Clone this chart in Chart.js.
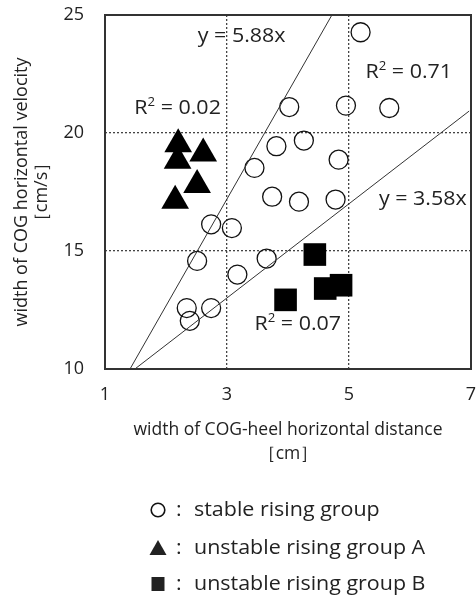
<!DOCTYPE html>
<html lang="en">
<head>
  <meta charset="UTF-8">
  <title>COG velocity vs COG-heel distance</title>
  <script src="https://cdn.jsdelivr.net/npm/chart.js"></script>
  <style>
    html, body { margin: 0; padding: 0; background: #fff; }
    #wrap { width: 476px; height: 603px; }
  </style>
</head>
<body>
  <div id="wrap"><canvas id="chart" width="476" height="603"></canvas></div>
  <script>
    // values
    const stableX = [5.19, 4.02, 4.95, 5.66, 3.81, 4.26, 4.83, 3.45, 3.74, 4.18, 4.78, 2.74, 3.08, 2.51, 3.65, 3.17, 2.34, 2.74, 2.39];
    const stableY = [24.27, 21.10, 21.16, 21.06, 19.44, 19.68, 18.87, 18.52, 17.30, 17.09, 17.18, 16.13, 15.97, 14.58, 14.68, 14.00, 12.58, 12.58, 12.04];
    const groupAX = [2.20, 2.19, 2.61, 2.51, 2.15];
    const groupAY = [19.52, 18.82, 19.13, 17.80, 17.13];
    const groupBX = [4.44, 3.96, 4.61, 4.87];
    const groupBY = [14.85, 12.93, 13.41, 13.55];
    const fitUpperX = [1.41, 4.72];
    const fitUpperY = [10, 25];
    const fitLowerX = [1.49, 6.97];
    const fitLowerY = [10, 20.93];
    const xTicks = [1, 3, 5, 7];
    const yTicks = [10, 15, 20, 25];
    const legendLabels = ['stable rising group', 'unstable rising group A', 'unstable rising group B'];

    const FONT = '"Open Sans"';
    const INK = '#222';
    const STRETCH = 1.1; // the original lettering is a bit wide

    const toPoints = (xs, ys) => xs.map((x, i) => ({ x: x, y: ys[i] }));

    // text notes inside the plot (data units)
    const notes = [
      { text: 'y = 5.88x', x: 3.24, y: 24.11 },
      { text: '= 0.71', sup: true, x: 5.98, y: 22.55 },
      { text: '= 0.02', sup: true, x: 2.19, y: 21.03 },
      { text: 'y = 3.58x', x: 6.21, y: 17.18 },
      { text: '= 0.07', sup: true, x: 4.16, y: 11.90 }
    ];

    const framePlugin = {
      id: 'frame',
      afterDraw(chart) {
        const { ctx, chartArea: a } = chart;
        ctx.save();
        ctx.strokeStyle = '#333';
        ctx.lineWidth = 2;
        ctx.strokeRect(a.left, a.top, a.right - a.left, a.bottom - a.top);
        ctx.restore();
      }
    };

    const notesPlugin = {
      id: 'notes',
      afterDatasetsDraw(chart) {
        const { ctx, scales } = chart;
        const big = '19.5px ' + FONT;
        const small = '12px ' + FONT;
        notes.forEach(n => {
          const px = scales.x.getPixelForValue(n.x);
          const py = scales.y.getPixelForValue(n.y);
          ctx.save();
          ctx.fillStyle = INK;
          ctx.textBaseline = 'middle';
          ctx.textAlign = 'left';
          ctx.translate(px, py);
          ctx.scale(STRETCH, 1);
          if (n.sup) {
            ctx.font = big;
            const wR = ctx.measureText('R').width;
            const wRest = ctx.measureText(' ' + n.text).width;
            ctx.font = small;
            const w2 = ctx.measureText('2').width;
            const x = -(wR + w2 + wRest) / 2;
            ctx.font = big;
            ctx.fillText('R', x, 0);
            ctx.font = small;
            ctx.fillText('2', x + wR, -6);
            ctx.font = big;
            ctx.fillText(' ' + n.text, x + wR + w2, 0);
          } else {
            ctx.font = big;
            const w = ctx.measureText(n.text).width;
            ctx.fillText(n.text, -w / 2, 0);
          }
          ctx.restore();
        });
      }
    };

    const legendPlugin = {
      id: 'symbolLegend',
      afterDraw(chart) {
        const { ctx } = chart;
        const rows = [510, 548, 584];
        const symX = 158;
        ctx.save();
        ctx.fillStyle = INK;
        ctx.strokeStyle = '#111';
        ctx.textBaseline = 'middle';
        rows.forEach((y, i) => {
          ctx.beginPath();
          if (i === 0) {
            ctx.lineWidth = 1.6;
            ctx.arc(symX, y, 6.8, 0, Math.PI * 2);
            ctx.stroke();
          } else if (i === 1) {
            ctx.moveTo(symX, y - 8);
            ctx.lineTo(symX + 8.5, y + 7);
            ctx.lineTo(symX - 8.5, y + 7);
            ctx.closePath();
            ctx.fill();
          } else {
            ctx.rect(symX - 6.5, y - 7, 13, 14);
            ctx.fill();
          }
          ctx.save();
          ctx.translate(176, y);
          ctx.scale(STRETCH, 1);
          ctx.font = '19.5px ' + FONT;
          ctx.fillText(':', 0, 0);
          ctx.fillText(legendLabels[i], 18 / STRETCH, 0);
          ctx.restore();
        });
        ctx.restore();
      }
    };

    const gridColor = ctx => {
      const s = ctx.scale;
      return (ctx.tick && (ctx.tick.value === s.min || ctx.tick.value === s.max)) ? 'rgba(0,0,0,0)' : '#444';
    };

    new Chart(document.getElementById('chart').getContext('2d'), {
      type: 'scatter',
      data: {
        datasets: [
          {
            label: 'y = 5.88x',
            data: toPoints(fitUpperX, fitUpperY),
            showLine: true,
            borderColor: '#333',
            borderWidth: 1,
            pointRadius: 0
          },
          {
            label: 'y = 3.58x',
            data: toPoints(fitLowerX, fitLowerY),
            showLine: true,
            borderColor: '#333',
            borderWidth: 1,
            pointRadius: 0
          },
          {
            label: legendLabels[0],
            data: toPoints(stableX, stableY),
            pointStyle: 'circle',
            pointRadius: 9.5,
            borderColor: '#111',
            borderWidth: 1.3,
            backgroundColor: 'rgba(0,0,0,0)'
          },
          {
            label: legendLabels[1],
            data: toPoints(groupAX, groupAY),
            pointStyle: 'triangle',
            pointRadius: 16,
            borderWidth: 0,
            backgroundColor: '#000'
          },
          {
            label: legendLabels[2],
            data: toPoints(groupBX, groupBY),
            pointStyle: 'rect',
            pointRadius: 16,
            borderWidth: 0,
            backgroundColor: '#000'
          }
        ]
      },
      options: {
        responsive: false,
        animation: false,
        events: [],
        layout: {
          autoPadding: false,
          padding: { left: 0, right: 5, top: 15, bottom: 137 }
        },
        plugins: {
          legend: { display: false },
          tooltip: { enabled: false }
        },
        scales: {
          x: {
            type: 'linear',
            min: 1,
            max: 7,
            afterBuildTicks: axis => { axis.ticks = xTicks.map(v => ({ value: v })); },
            afterFit: axis => {
              axis.height = 97;
              axis.paddingLeft = 0;
              axis.paddingRight = 0;
            },
            grid: { color: gridColor, lineWidth: 1.3, drawTicks: false },
            border: { display: false, dash: [2, 2] },
            ticks: { color: INK, padding: 15, font: { family: FONT, size: 18 } },
            title: {
              display: true,
              text: ['width of COG-heel horizontal distance', '［cm］'],
              color: INK,
              padding: 0,
              font: { family: FONT, size: 17.5, lineHeight: 1.36 }
            }
          },
          y: {
            type: 'linear',
            min: 10,
            max: 25,
            afterBuildTicks: axis => { axis.ticks = yTicks.map(v => ({ value: v })); },
            afterFit: axis => {
              axis.width = 105;
              axis.paddingTop = 0;
              axis.paddingBottom = 0;
            },
            grid: { color: gridColor, lineWidth: 1.3, drawTicks: false },
            border: { display: false, dash: [2, 2] },
            ticks: { color: INK, padding: 21, font: { family: FONT, size: 18 } },
            title: {
              display: true,
              text: ['width of COG horizontal velocity', '［cm/s］'],
              color: INK,
              padding: { top: 12, bottom: 0 },
              font: { family: FONT, size: 18, lineHeight: 1.1 }
            }
          }
        }
      },
      plugins: [framePlugin, notesPlugin, legendPlugin]
    });
  </script>
</body>
</html>
